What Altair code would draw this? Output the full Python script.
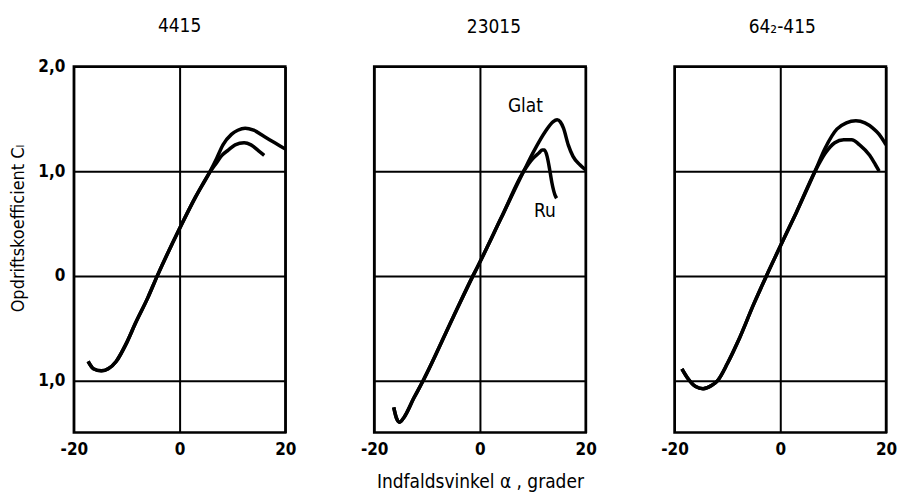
import altair as alt
import pandas as pd

# ---- data ----
panel_names = ["4415", "23015", "64₂-415"]

# NACA 4415
p1_low_a = [-17.3, -16.3, -14.8, -13.5, -12.0, -10.0, -8.4, -6.0, -4.2, 0.0, 3.0, 5.6]
p1_low_cl = [-0.82, -0.89, -0.91, -0.89, -0.82, -0.64, -0.46, -0.21, 0.0, 0.45, 0.75, 0.98]
p1_glat_a = [7.0, 8.2, 9.8, 11.0, 12.4, 14.0, 16.0, 18.0, 20.0]
p1_glat_cl = [1.12, 1.25, 1.35, 1.39, 1.41, 1.39, 1.33, 1.27, 1.21]
p1_ru_a = [7.0, 8.0, 9.2, 10.5, 12.2, 13.5, 15.0, 16.0]
p1_ru_cl = [1.08, 1.15, 1.20, 1.25, 1.27, 1.25, 1.19, 1.15]

# NACA 23015
p2_low_a = [-16.3, -15.8, -15.2, -14.3, -12.5, -10.7, -5.0, -1.3, 0.0, 4.0, 8.3]
p2_low_cl = [-1.26, -1.36, -1.40, -1.35, -1.17, -1.0, -0.39, 0.0, 0.13, 0.55, 1.0]
p2_glat_a = [10.2, 12.4, 13.8, 14.6, 15.2, 15.8, 16.7, 17.6, 18.9, 20.0]
p2_glat_cl = [1.19, 1.38, 1.47, 1.49, 1.47, 1.41, 1.25, 1.14, 1.06, 1.01]
p2_ru_a = [10.0, 11.1, 11.8, 12.2, 12.7, 13.2, 13.6, 14.2, 14.5]
p2_ru_cl = [1.12, 1.17, 1.20, 1.20, 1.14, 1.01, 0.89, 0.77, 0.74]

# NACA 642-415
p3_low_a = [-18.6, -17.5, -16.0, -14.6, -13.0, -11.8, -10.0, -8.0, -5.0, -2.6, 0.0, 3.0, 6.6]
p3_low_cl = [-0.89, -0.98, -1.06, -1.08, -1.05, -1.0, -0.84, -0.63, -0.27, 0.0, 0.28, 0.60, 1.0]
p3_glat_a = [8.5, 10.7, 12.5, 14.3, 16.0, 17.5, 18.7, 20.0]
p3_glat_cl = [1.22, 1.40, 1.46, 1.48, 1.46, 1.41, 1.35, 1.25]
p3_ru_a = [8.5, 10.3, 12.0, 13.5, 15.0, 16.9, 18.0, 18.7]
p3_ru_cl = [1.17, 1.27, 1.30, 1.30, 1.25, 1.15, 1.06, 1.0]

# curve labels (panel 23015)
label_text = ["Glat", "Ru"]
label_a = [8.6, 12.3]
label_cl = [1.62, 0.62]

x_ticks = [-20, 0, 20]
y_ticks = [2, 1, 0, -1]

# ---- build table ----
panel_data = {
    "4415": (p1_low_a, p1_low_cl, p1_glat_a, p1_glat_cl, p1_ru_a, p1_ru_cl),
    "23015": (p2_low_a, p2_low_cl, p2_glat_a, p2_glat_cl, p2_ru_a, p2_ru_cl),
    "64₂-415": (p3_low_a, p3_low_cl, p3_glat_a, p3_glat_cl, p3_ru_a, p3_ru_cl),
}
rows = []
for name, (la, lc, ga, gc, ra, rc) in panel_data.items():
    for series, ua, uc in (("Glat", ga, gc), ("Ru", ra, rc)):
        for i, (a, c) in enumerate(zip(la + ua, lc + uc)):
            rows.append({"panel": name, "series": series, "alpha": a, "cl": c, "idx": i})
df = pd.DataFrame(rows)
labels_df = pd.DataFrame({"text": label_text, "alpha": label_a, "cl": label_cl})

FONT = "'DejaVu Sans Condensed', 'DejaVu Sans'"
xscale = alt.Scale(domain=[-20, 20], nice=False)
yscale = alt.Scale(domain=[-1.5, 2.0], nice=False)

x_label_expr = "datum.value < 0 ? '-' + abs(datum.value) : '' + datum.value"
y_label_expr = "datum.value == 0 ? '0' : replace(format(abs(datum.value), '.1f'), '.', ',')"


def make_panel(i, name):
    d = df[df.panel == name]
    xa = dict(values=x_ticks, grid=True, ticks=False, domain=False, labelFlush=False,
              labelExpr=x_label_expr, labelPadding=9, labelFontSize=17, labelFontWeight="bold")
    if i == 1:
        xa.update(title="Indfaldsvinkel α , grader", titlePadding=15, titleFontSize=19,
                  titleFontWeight="normal")
    else:
        xa.update(title=None)
    ya = dict(values=y_ticks, grid=True, ticks=False, domain=False)
    if i == 0:
        ya.update(labelExpr=y_label_expr, labelPadding=9, labelFontSize=17,
                  labelFontWeight="bold",
                  title="Opdriftskoefficient  Cₗ", titleFontSize=18, titleFontWeight="normal",
                  titleAngle=270, titleX=-55, titleY=162, titleAlign="center",
                  titleBaseline="middle")
    else:
        ya.update(labels=False, title=None)

    lines = alt.Chart(d).mark_line(color="black", strokeWidth=3.5, interpolate="monotone",
                                   clip=True).encode(
        x=alt.X("alpha:Q", scale=xscale, axis=alt.Axis(**xa)),
        y=alt.Y("cl:Q", scale=yscale, axis=alt.Axis(**ya)),
        detail="series:N",
        order="idx:Q",
    )
    layers = [lines]
    if i == 1:
        txt = alt.Chart(labels_df).mark_text(font=FONT, fontSize=19, color="black").encode(
            x=alt.X("alpha:Q", scale=xscale),
            y=alt.Y("cl:Q", scale=yscale),
            text="text:N",
        )
        layers.append(txt)
    dx = [0, 14, 2][i]
    off = [6, 14, 14][i]
    return alt.layer(*layers).properties(
        width=212, height=367,
        title=alt.TitleParams(text=name, fontSize=19, fontWeight="normal", font=FONT,
                              offset=off, baseline="alphabetic", dx=dx, anchor="middle"),
    )


chart = alt.hconcat(*[make_panel(i, n) for i, n in enumerate(panel_names)],
                    spacing=89, bounds="flush").properties(
    padding={"left": 8, "top": 15, "right": 5, "bottom": 3}
).configure_view(
    stroke="black", strokeWidth=2.5
).configure_axis(
    gridColor="black", gridWidth=2, gridOpacity=1, labelColor="black", titleColor="black",
    labelFont=FONT, titleFont=FONT
)

chart.save("out.html", embed_options={"renderer": "svg", "actions": False})
